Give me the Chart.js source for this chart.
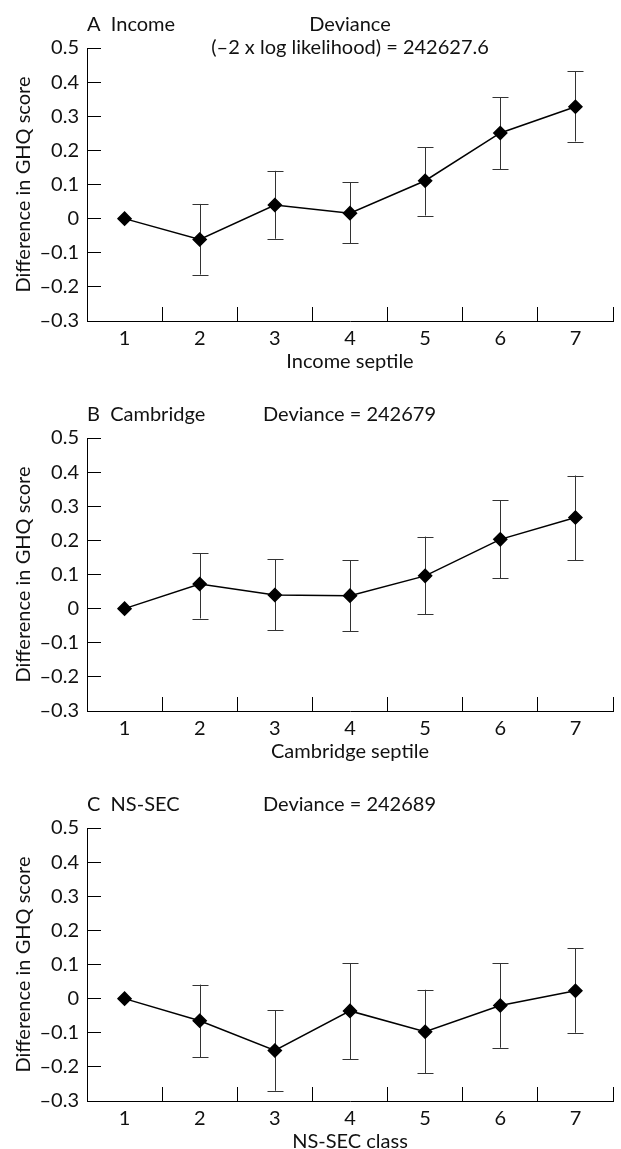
<!DOCTYPE html>
<html>
<head>
<meta charset="utf-8">
<script src="https://cdn.jsdelivr.net/npm/chart.js@4.4.1/dist/chart.umd.min.js"></script>
<style>
html, body { margin: 0; padding: 0; background: #fff; overflow: hidden; }
.panel { position: absolute; left: 0; width: 621px; height: 380px; }
</style>
</head>
<body>
<div class="panel" style="top:0px"><canvas id="chartA" width="621" height="380"></canvas></div>
<div class="panel" style="top:390px"><canvas id="chartB" width="621" height="380"></canvas></div>
<div class="panel" style="top:780px"><canvas id="chartC" width="621" height="380"></canvas></div>
<script>
// Data
const categories = ['1', '2', '3', '4', '5', '6', '7'];

const incomeMean  = [0, -0.061, 0.040, 0.016, 0.111, 0.251, 0.328];
const incomeLower = [null, -0.164, -0.059, -0.072, 0.009, 0.144, 0.226];
const incomeUpper = [null, 0.043, 0.140, 0.106, 0.209, 0.355, 0.432];

const cambridgeMean  = [0, 0.072, 0.040, 0.038, 0.096, 0.203, 0.267];
const cambridgeLower = [null, -0.029, -0.063, -0.066, -0.017, 0.089, 0.142];
const cambridgeUpper = [null, 0.162, 0.145, 0.142, 0.211, 0.318, 0.390];

const nssecMean  = [0, -0.065, -0.152, -0.036, -0.097, -0.020, 0.023];
const nssecLower = [null, -0.172, -0.270, -0.178, -0.218, -0.144, -0.100];
const nssecUpper = [null, 0.041, -0.034, 0.104, 0.026, 0.103, 0.148];

const yTicksMin = -0.3;
const yTicksMax = 0.5;

const fontFamily = 'Lato, "Noto Sans", sans-serif';
Chart.defaults.font.family = fontFamily;
Chart.defaults.font.size = 20;
Chart.defaults.color = '#111';

// vertical error bars with caps
const errorBars = {
    id: 'errorBars',
    beforeDatasetsDraw(chart, args, opts) {
        const { ctx, scales: { x, y } } = chart;
        ctx.save();
        ctx.strokeStyle = '#333';
        ctx.lineWidth = 1;
        opts.lower.forEach((lo, i) => {
            if (lo == null) return;
            const px = Math.round(x.getPixelForValue(i)) + 0.5;
            const yTop = y.getPixelForValue(opts.upper[i]);
            const yBot = y.getPixelForValue(lo);
            ctx.beginPath();
            ctx.moveTo(px, yTop);
            ctx.lineTo(px, yBot);
            ctx.moveTo(px - 8, Math.round(yTop) + 0.5);
            ctx.lineTo(px + 8, Math.round(yTop) + 0.5);
            ctx.moveTo(px - 8, Math.round(yBot) + 0.5);
            ctx.lineTo(px + 8, Math.round(yBot) + 0.5);
            ctx.stroke();
        });
        ctx.restore();
    }
};

// panel letter + deviance text
const panelTitles = {
    id: 'panelTitles',
    afterDraw(chart, args, opts) {
        const { ctx, chartArea } = chart;
        ctx.save();
        ctx.font = '20px ' + fontFamily;
        ctx.fillStyle = '#111';
        ctx.textBaseline = 'middle';
        ctx.textAlign = 'left';
        ctx.fillText(opts.label, chartArea.left, chartArea.top - 23);
        if (opts.centered) {
            ctx.textAlign = 'center';
            const cx = (chartArea.left + chartArea.right) / 2;
            opts.deviance.forEach((t, i) => ctx.fillText(t, cx, chartArea.top - 23 + i * 23));
        } else {
            ctx.fillText(opts.deviance[0], 263, chartArea.top - 23);
        }
        ctx.restore();
    }
};

function makePanel(id, mean, lower, upper, xTitle, label, deviance, centered) {
    return new Chart(document.getElementById(id), {
        type: 'line',
        data: {
            labels: categories,
            datasets: [{
                data: mean,
                borderColor: '#000',
                borderWidth: 1.5,
                pointStyle: 'rectRot',
                pointRadius: 6.5,
                pointBackgroundColor: '#000',
                pointBorderColor: '#000',
                tension: 0,
                clip: false
            }]
        },
        options: {
            responsive: false,
            animation: false,
            layout: { padding: { top: 48, right: 1, left: 0, bottom: 0 } },
            scales: {
                x: {
                    type: 'category',
                    offset: true,
                    grid: { offset: true, drawOnChartArea: false, drawTicks: true, tickLength: -14, color: '#000' },
                    border: { display: true, color: '#000', width: 1 },
                    ticks: { padding: 20, maxRotation: 0 },
                    title: { display: true, text: xTitle, padding: { top: 0, bottom: 6 } },
                    afterFit(scale) { scale.height = 59; }
                },
                y: {
                    min: yTicksMin,
                    max: yTicksMax,
                    grid: { drawOnChartArea: false, drawTicks: true, tickLength: -14, color: '#000' },
                    border: { display: true, color: '#000', width: 1 },
                    ticks: {
                        stepSize: 0.1,
                        padding: 22,
                        callback: v => {
                            const r = Math.round(v * 10) / 10;
                            if (r === 0) return '0';
                            return r < 0 ? '–' + Math.abs(r).toFixed(1) : r.toFixed(1);
                        }
                    },
                    title: { display: true, text: 'Difference in GHQ score', padding: { top: 12, bottom: 0 } },
                    afterFit(scale) { scale.width = 87; }
                }
            },
            plugins: {
                legend: { display: false },
                tooltip: { enabled: false },
                errorBars: { lower: lower, upper: upper },
                panelTitles: { label: label, deviance: deviance, centered: centered }
            }
        },
        plugins: [errorBars, panelTitles]
    });
}

makePanel('chartA', incomeMean, incomeLower, incomeUpper, 'Income septile',
    'A  Income', ['Deviance', '(–2 x log likelihood) = 242627.6'], true);
makePanel('chartB', cambridgeMean, cambridgeLower, cambridgeUpper, 'Cambridge septile',
    'B  Cambridge', ['Deviance = 242679'], false);
makePanel('chartC', nssecMean, nssecLower, nssecUpper, 'NS-SEC class',
    'C  NS-SEC', ['Deviance = 242689'], false);
</script>
</body>
</html>
